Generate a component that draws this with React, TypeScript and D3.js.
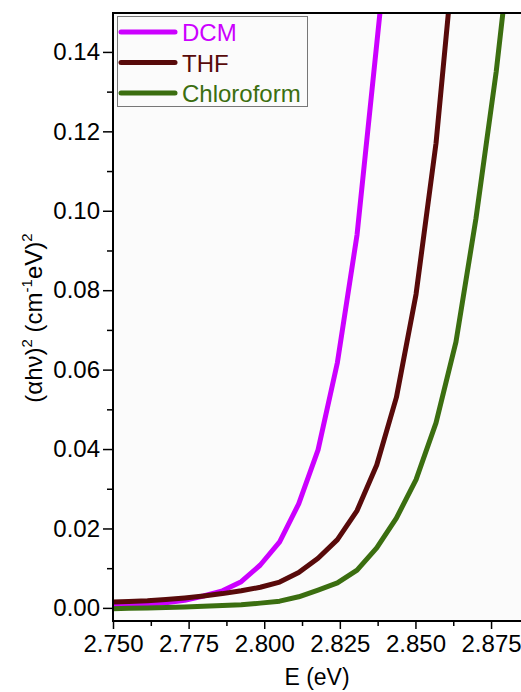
import { useEffect, useRef } from "react";
import * as d3 from "d3";

// photon energy (eV) of the sampled points
const energy = [
  2.7491, 2.7552, 2.7614, 2.7675, 2.7737, 2.7799, 2.7862, 2.7924, 2.7987, 2.8051, 2.8114,
  2.8178, 2.8242, 2.8307, 2.8372, 2.8437, 2.8502, 2.8568, 2.8634, 2.87, 2.8767, 2.8834,
];

const dcm = [
  0.0003, 0.0006, 0.0009, 0.0013, 0.0019, 0.003, 0.0043, 0.0066, 0.0108, 0.0166, 0.0262,
  0.0398, 0.0618, 0.094, 0.142, 0.19,
];
const thf = [
  0.0015, 0.0016, 0.0018, 0.0021, 0.0025, 0.003, 0.0036, 0.0043, 0.0052, 0.0065, 0.0089,
  0.0125, 0.0172, 0.0245, 0.036, 0.053, 0.079, 0.117, 0.17,
];
const chloroform = [
  -0.0002, -0.0001, 0.0, 0.0001, 0.0002, 0.0004, 0.0006, 0.0008, 0.0012, 0.0017, 0.0028,
  0.0045, 0.0063, 0.0095, 0.0151, 0.0226, 0.0323, 0.0466, 0.067, 0.098, 0.135, 0.18,
];

const seriesNames = ["DCM", "THF", "Chloroform"];
const seriesValues = [dcm, thf, chloroform];
const seriesColors = ["#cc00ff", "#580a0a", "#3b6e10"];

const xTicks = [2.75, 2.775, 2.8, 2.825, 2.85, 2.875];
const xMinor = [2.7625, 2.7875, 2.8125, 2.8375, 2.8625];
const yTicks = [0, 0.02, 0.04, 0.06, 0.08, 0.1, 0.12, 0.14];
const yMinor = [0.01, 0.03, 0.05, 0.07, 0.09, 0.11, 0.13];

export default function App() {
  const ref = useRef<SVGSVGElement>(null);

  useEffect(() => {
    const W = 521;
    const H = 692;
    const left = 113;
    const top = 13;
    const bottom = 621;
    const right = 521;
    const font = "'Liberation Sans', Arial, sans-serif";

    const svg = d3.select(ref.current).attr("width", W).attr("height", H);
    svg.selectAll("*").remove();

    const x = d3.scaleLinear().domain([2.75, 2.8849]).range([left, right]);
    const y = d3.scaleLinear().domain([-0.0033, 0.1498]).range([bottom, top]);

    // plot background
    svg
      .append("rect")
      .attr("x", left)
      .attr("y", top)
      .attr("width", right - left)
      .attr("height", bottom - top)
      .attr("fill", "#fbfbfb");

    svg
      .append("clipPath")
      .attr("id", "plot-clip")
      .append("rect")
      .attr("x", left)
      .attr("y", top)
      .attr("width", right - left)
      .attr("height", bottom - top);

    // curves
    const line = d3
      .line<[number, number]>()
      .x((d) => x(d[0]))
      .y((d) => y(d[1]));

    const curves = svg.append("g").attr("clip-path", "url(#plot-clip)");
    seriesValues.forEach((vals, i) => {
      const pts = vals.map((v, j) => [energy[j], v] as [number, number]);
      curves
        .append("path")
        .attr("d", line(pts))
        .attr("fill", "none")
        .attr("stroke", seriesColors[i])
        .attr("stroke-width", 5)
        .attr("stroke-linejoin", "round");
    });

    // Y axis
    const yAxis = svg.append("g").attr("transform", `translate(${left},0)`);
    yAxis
      .call(
        d3
          .axisLeft(y)
          .tickValues(yTicks)
          .tickSize(10)
          .tickPadding(3)
          .tickFormat(d3.format(".2f")),
      )
      .call((g) => g.select(".domain").remove());
    yAxis
      .selectAll("text")
      .style("font-family", font)
      .style("font-size", "24px")
      .attr("fill", "#000");
    yAxis.selectAll("line").attr("stroke-width", 1.5);
    svg
      .append("g")
      .attr("transform", `translate(${left},0)`)
      .call(d3.axisLeft(y).tickValues(yMinor).tickSize(6).tickFormat(() => ""))
      .call((g) => g.select(".domain").remove())
      .selectAll("line")
      .attr("stroke-width", 1.5);

    // X axis
    const xAxis = svg.append("g").attr("transform", `translate(0,${bottom})`);
    xAxis
      .call(
        d3
          .axisBottom(x)
          .tickValues(xTicks)
          .tickSize(8)
          .tickPadding(6)
          .tickFormat(d3.format(".3f")),
      )
      .call((g) => g.select(".domain").remove());
    xAxis
      .selectAll("text")
      .style("font-family", font)
      .style("font-size", "24px")
      .attr("fill", "#000");
    xAxis.selectAll("line").attr("stroke-width", 1.5);
    svg
      .append("g")
      .attr("transform", `translate(0,${bottom})`)
      .call(d3.axisBottom(x).tickValues(xMinor).tickSize(5).tickFormat(() => ""))
      .call((g) => g.select(".domain").remove())
      .selectAll("line")
      .attr("stroke-width", 1.5);

    // frame
    svg
      .append("path")
      .attr("d", `M${right},${top}H${left}V${bottom}H${right}`)
      .attr("fill", "none")
      .attr("stroke", "#000")
      .attr("stroke-width", 2);

    // legend
    const legend = svg.append("g");
    legend
      .append("rect")
      .attr("x", 117.5)
      .attr("y", 16.5)
      .attr("width", 190)
      .attr("height", 90)
      .attr("fill", "#fbfbfb")
      .attr("stroke", "#777")
      .attr("stroke-width", 1);
    seriesNames.forEach((name, i) => {
      const ly = 32 + i * 30.5;
      legend
        .append("line")
        .attr("x1", 121)
        .attr("x2", 175)
        .attr("y1", ly)
        .attr("y2", ly)
        .attr("stroke", seriesColors[i])
        .attr("stroke-width", 5)
        .attr("stroke-linecap", "round");
      legend
        .append("text")
        .attr("x", 182)
        .attr("y", ly + 9)
        .attr("fill", seriesColors[i])
        .style("font-family", font)
        .style("font-size", "24px")
        .text(name);
    });

    // axis titles
    svg
      .append("text")
      .attr("x", (left + right) / 2)
      .attr("y", 685)
      .attr("text-anchor", "middle")
      .style("font-family", font)
      .style("font-size", "23px")
      .text("E (eV)");

    const yTitle = svg
      .append("text")
      .attr("transform", `translate(42,318) rotate(-90)`)
      .attr("text-anchor", "middle")
      .style("font-family", font)
      .style("font-size", "24px");
    yTitle.append("tspan").text("(\u03b1h\u03bd)");
    yTitle.append("tspan").attr("dy", -10).style("font-size", "15px").text("2");
    yTitle.append("tspan").attr("dy", 10).text(" (cm");
    yTitle.append("tspan").attr("dy", -10).style("font-size", "15px").text("-1");
    yTitle.append("tspan").attr("dy", 10).text("eV)");
    yTitle.append("tspan").attr("dy", -10).style("font-size", "15px").text("2");
  }, []);

  return (
    <div style={{ position: "absolute", left: 0, top: 0, background: "#fff" }}>
      <svg ref={ref} style={{ display: "block" }}></svg>
    </div>
  );
}
